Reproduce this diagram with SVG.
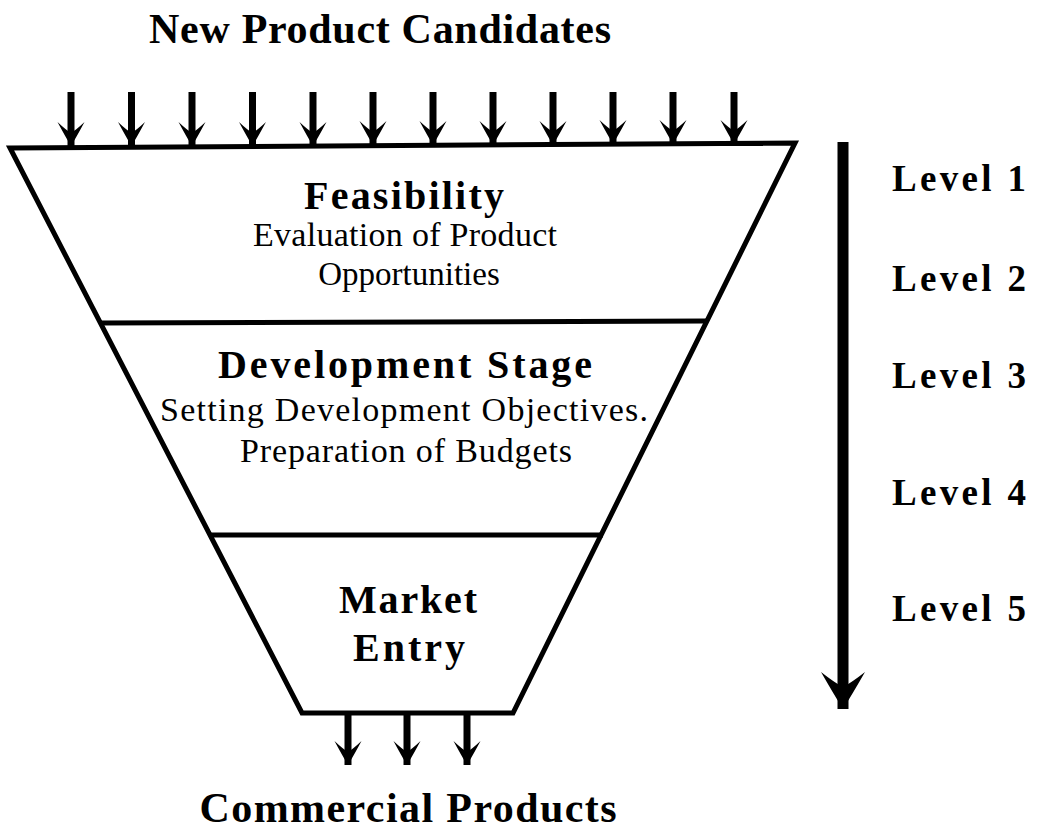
<svg xmlns="http://www.w3.org/2000/svg" width="1039" height="838" viewBox="0 0 1039 838">
  <style>
    .bg { fill: #ffffff; }
    .funnel { fill: #ffffff; stroke: #000000; stroke-width: 5; stroke-linejoin: miter; }
    .divider { stroke: #000000; stroke-width: 5; fill: none; }
    .flow { stroke: #000000; stroke-width: 7; fill: none; }
    .big { stroke: #000000; stroke-width: 11; fill: none; }
    .head { fill: #000000; }
    text { font-family: "Liberation Serif", "Times New Roman", serif; fill: #000000; text-anchor: middle; }
    .title { font-size: 42px; font-weight: bold; }
    .stage { font-size: 40px; font-weight: bold; }
    .desc { font-size: 34px; }
    .level { font-size: 37px; font-weight: bold; text-anchor: start; }
  </style>
  <defs>
    <marker id="arrowSmall" viewBox="-26 -15 28 30" markerWidth="28" markerHeight="30" refX="0" refY="0" orient="auto" markerUnits="userSpaceOnUse">
      <path class="head" d="M0,0 Q-10,-6 -24,-13.5 Q-16,-5 -13,0 Q-16,5 -24,13.5 Q-10,6 0,0 Z"/>
    </marker>
    <marker id="arrowBig" viewBox="-40 -24 42 48" markerWidth="42" markerHeight="48" refX="0" refY="0" orient="auto" markerUnits="userSpaceOnUse">
      <path class="head" d="M0,0 Q-16,-10 -37,-22 Q-26,-8 -22,0 Q-26,8 -37,22 Q-16,10 0,0 Z"/>
    </marker>
  </defs>

  <rect class="bg" x="0" y="0" width="1039" height="838"/>

  <text class="title" x="380" y="43" textLength="462" lengthAdjust="spacing">New Product Candidates</text>

  <!-- funnel outline -->
  <g id="funnel">
    <polygon class="funnel" points="10,148 795,143 513,713 302,713"/>
  </g>

  <g id="feasibility">
    <line class="divider" x1="101" y1="323" x2="706" y2="321"/>
    <text class="stage" x="404" y="209" textLength="200" lengthAdjust="spacing">Feasibility</text>
    <text class="desc" x="405" y="246" textLength="304" lengthAdjust="spacing">Evaluation of Product</text>
    <text class="desc" x="409" y="285" style="font-size:33px">Opportunities</text>
  </g>

  <g id="development">
    <line class="divider" x1="211" y1="535" x2="603" y2="535"/>
    <text class="stage" x="405" y="378" textLength="374" lengthAdjust="spacing">Development Stage</text>
    <text class="desc" x="404" y="421" textLength="488" lengthAdjust="spacing">Setting Development Objectives.</text>
    <text class="desc" x="406" y="462" textLength="332" lengthAdjust="spacing">Preparation of Budgets</text>
  </g>

  <g id="market-entry">
    <text class="stage" x="408" y="613" textLength="138" lengthAdjust="spacing">Market</text>
    <text class="stage" x="409" y="661" textLength="112" lengthAdjust="spacing">Entry</text>
  </g>

  <text class="title" x="408" y="822" textLength="417" lengthAdjust="spacing">Commercial Products</text>

  <g id="levels">
    <text class="level" x="892" y="191" textLength="134" lengthAdjust="spacing">Level 1</text>
    <text class="level" x="892" y="291" textLength="134" lengthAdjust="spacing">Level 2</text>
    <text class="level" x="892" y="388" textLength="134" lengthAdjust="spacing">Level 3</text>
    <text class="level" x="892" y="505" textLength="134" lengthAdjust="spacing">Level 4</text>
    <text class="level" x="892" y="621" textLength="134" lengthAdjust="spacing">Level 5</text>
  </g>

  <g id="connectors">
    <!-- incoming candidates -->
    <line class="flow" x1="71" y1="92" x2="71" y2="146" marker-end="url(#arrowSmall)"/>
    <line class="flow" x1="131.5" y1="92" x2="131.5" y2="146" marker-end="url(#arrowSmall)"/>
    <line class="flow" x1="192" y1="92" x2="192" y2="146" marker-end="url(#arrowSmall)"/>
    <line class="flow" x1="252.5" y1="92" x2="252.5" y2="146" marker-end="url(#arrowSmall)"/>
    <line class="flow" x1="313" y1="92" x2="313" y2="146" marker-end="url(#arrowSmall)"/>
    <line class="flow" x1="373" y1="92" x2="373" y2="145" marker-end="url(#arrowSmall)"/>
    <line class="flow" x1="433" y1="92" x2="433" y2="145" marker-end="url(#arrowSmall)"/>
    <line class="flow" x1="493" y1="92" x2="493" y2="145" marker-end="url(#arrowSmall)"/>
    <line class="flow" x1="553" y1="92" x2="553" y2="145" marker-end="url(#arrowSmall)"/>
    <line class="flow" x1="613" y1="92" x2="613" y2="144" marker-end="url(#arrowSmall)"/>
    <line class="flow" x1="673" y1="92" x2="673" y2="144" marker-end="url(#arrowSmall)"/>
    <line class="flow" x1="734" y1="92" x2="734" y2="144" marker-end="url(#arrowSmall)"/>
    <!-- outgoing products -->
    <line class="flow" x1="348" y1="714" x2="348" y2="765" marker-end="url(#arrowSmall)"/>
    <line class="flow" x1="407" y1="714" x2="407" y2="765" marker-end="url(#arrowSmall)"/>
    <line class="flow" x1="467" y1="714" x2="467" y2="765" marker-end="url(#arrowSmall)"/>
    <!-- level progression -->
    <line class="big" x1="843" y1="142" x2="843" y2="709" marker-end="url(#arrowBig)"/>
  </g>
</svg>
